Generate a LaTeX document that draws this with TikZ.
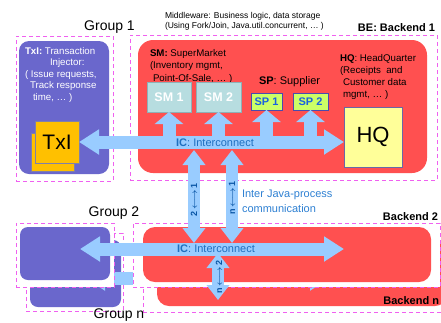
\documentclass[tikz,border=0pt]{standalone}
\usepackage{fontspec}
\setmainfont{Liberation Sans}
\usetikzlibrary{arrows.meta}

\definecolor{grppurple}{HTML}{6A67CC}
\definecolor{bered}{HTML}{FF5050}
\definecolor{icblue}{HTML}{99CCFF}
\definecolor{dashpink}{HTML}{F060F0}
\definecolor{smfill}{HTML}{B7DDE0}
\definecolor{smline}{HTML}{8EB0B6}
\definecolor{spfill}{HTML}{CCFF66}
\definecolor{spline}{HTML}{4A4AAE}
\definecolor{sptext}{HTML}{1A62E0}
\definecolor{hqfill}{HTML}{FFFF99}
\definecolor{hqline}{HTML}{6868A8}
\definecolor{txifill}{HTML}{FFC000}
\definecolor{txiline}{HTML}{8080A8}
\definecolor{iclabel}{HTML}{1F6FC0}
\definecolor{javablue}{HTML}{2E80D2}
\definecolor{linkblue}{HTML}{0A56A6}

\begin{document}
\begin{tikzpicture}[x=1pt,y=-1pt,
    every node/.style={inner sep=0pt,outer sep=0pt},
    grpbox/.style={draw=dashpink,fill=white,line width=0.9pt,dash pattern=on 4pt off 3pt},
    grpback/.style={fill=grppurple,rounded corners=10pt},
    beback/.style={fill=bered,rounded corners=15pt},
    smbox/.style={draw=smline,fill=smfill,line width=1pt,minimum height=30pt,text=white,
        font=\bfseries\fontsize{12.5}{12.5}\selectfont},
    spbox/.style={draw=spline,fill=spfill,line width=1pt,minimum height=17pt,text=sptext,
        font=\bfseries\fontsize{11}{11}\selectfont},
    txicard/.style={draw=txiline,fill=txifill,line width=0.8pt},
    icarrow/.style={draw=icblue,line width=13pt,
        {Triangle[width=24pt,length=20pt]}-{Triangle[width=24pt,length=20pt]}},
    uparrow/.style={draw=icblue,line width=13pt,-{Triangle[width=28pt,length=12pt]}},
    linkarrow/.style={draw=icblue,line width=12pt,
        {Triangle[width=22pt,length=15pt]}-{Triangle[width=22pt,length=15pt]}},
    linklabel/.style={rotate=90,text=linkblue,font=\bfseries\boldmath\fontsize{9}{9}\selectfont},
    iclabel/.style={text=iclabel,font=\fontsize{11}{11}\selectfont},
    grplabel/.style={font=\fontsize{14}{14}\selectfont},
    belabel/.style={anchor=east,font=\bfseries\fontsize{11}{11}\selectfont}]

    \useasboundingbox (0,0) rectangle (441,322);

    % group n / backend n, mostly hidden
    \node[grpbox,minimum width=97pt,minimum height=78pt] (grpnbox) at (74.5,272) {};
    \node[grpback,minimum width=91pt,minimum height=67pt,rounded corners=8pt] (txin) at (75.5,273.5) {};
    \node[grpbox,minimum width=307pt,minimum height=79pt] (benbox) at (296.5,272.5) {};
    \node[beback,minimum width=290pt,minimum height=66pt,rounded corners=12pt] (ben) at (302,273) {};
    \coordinate (icnl) at (85,278);
    \coordinate (icnr) at (330,278);
    \draw[icarrow] (icnl) -- (icnr);

    % group 2 / backend 2
    \node[grpbox,minimum width=98pt,minimum height=64pt] (grp2box) at (65,255) {};
    \node[grpback,minimum width=90pt,minimum height=53pt,rounded corners=8pt] (txi2) at (65,253.5) {};
    \node[grpbox,minimum width=307pt,minimum height=64pt] (be2box) at (286.5,255) {};
    \node[beback,minimum width=288pt,minimum height=55pt,rounded corners=12pt] (be2) at (287,254.5) {};
    \coordinate (ic2l) at (80,249);
    \coordinate (ic2r) at (344,249);
    \draw[icarrow] (ic2l) -- (ic2r);
    \node[iclabel] (ic2) at (216,249) {\textbf{IC}: Interconnect};
    \coordinate (lk3t) at (218,253);
    \coordinate (lk3b) at (218,300);
    \draw[linkarrow] (lk3t) -- (lk3b);
    \node[linklabel] (lk3lab) at (219,277) {n\,$\longleftrightarrow$\,2};

    % group 1
    \node[grpbox,minimum width=97pt,minimum height=145pt] (grp1box) at (64.5,108.5) {};
    \node[grpback,minimum width=90pt,minimum height=133pt] (txi1) at (64,107.5) {};
    \node[anchor=north west,align=left,text=white,font=\fontsize{9.7}{11.6}\selectfont] (txitext)
        at (25,47) {\textbf{TxI:} Transaction\\\hspace*{25pt}Injector:\\( Issue requests,\\\hspace*{5pt}Track response\\\hspace*{8pt}time, \ldots\ )};
    \node[txicard,minimum width=43pt,minimum height=38pt] (txiback) at (52.5,152) {};
    \node[txicard,minimum width=44pt,minimum height=42pt,font=\fontsize{21}{21}\selectfont] (txi) at (57,142) {TxI};

    % backend 1
    \node[grpbox,minimum width=307pt,minimum height=145pt] (be1box) at (283.5,107.5) {};
    \node[beback,minimum width=289pt,minimum height=133pt] (be1) at (282.5,106.5) {};
    \node[anchor=north west,align=left,font=\fontsize{9.7}{12.3}\selectfont] (smtext)
        at (150,49.5) {\textbf{SM:} SuperMarket\\(Inventory mgmt,\\\hspace*{3pt}Point-Of-Sale, \ldots\ )};
    \node[anchor=north west,font=\fontsize{11}{13}\selectfont] (sptext) at (259,77) {\textbf{SP}: Supplier};
    \node[anchor=north west,align=left,font=\fontsize{9.7}{12}\selectfont] (hqtext)
        at (340,54.4) {\textbf{HQ}: HeadQuarter\\(Receipts\ \ and\\\hspace*{3pt}Customer data\\\hspace*{3pt}mgmt, \ldots\ )};
    \node[smbox,minimum width=44pt] (sm1) at (169,97) {SM 1};
    \node[smbox,minimum width=45pt] (sm2) at (218.5,97) {SM 2};
    \node[spbox,minimum width=31pt] (sp1) at (266.5,101.5) {SP 1};
    \node[spbox,minimum width=35pt] (sp2) at (310.5,101.5) {SP 2};
    \node[draw=hqline,fill=hqfill,line width=1pt,minimum width=58pt,minimum height=60pt,
        font=\fontsize{22}{22}\selectfont] (hq) at (373,137) {HQ};

    \draw[icarrow] (txi.east) -- (hq.west |- txi.east);
    \foreach \b in {sm1,sm2,sp1,sp2}
        \draw[uparrow] (\b.south |- txi.east) -- (\b.south);
    \node[iclabel] (ic1) at (215,143) {\textbf{IC}: Interconnect};

    % between the java processes
    \coordinate (lk1t) at (194,150);
    \coordinate (lk1b) at (194,243);
    \coordinate (lk2t) at (232,150);
    \coordinate (lk2b) at (232,243);
    \draw[linkarrow] (lk1t) -- (lk1b);
    \draw[linkarrow] (lk2t) -- (lk2b);
    \node[linklabel] (lk1lab) at (194,200) {2\,$\longleftrightarrow$\,1};
    \node[linklabel] (lk2lab) at (232,198) {n\,$\longleftrightarrow$\,1};
    \node[anchor=north west,align=left,text=javablue,font=\fontsize{11}{14.5}\selectfont] (java)
        at (242,190) {Inter Java-process\\communication};

    % titles
    \node[anchor=north west,font=\fontsize{8.5}{10}\selectfont,align=left] (mw)
        at (165,11.9) {Middleware: Business logic, data storage\\(Using Fork/Join, Java.util.concurrent, \ldots\ )};
    \node[grplabel] (g1lab) at (109.5,26.7) {Group 1};
    \node[grplabel] (g2lab) at (114,213) {Group 2};
    \node[grplabel] (gnlab) at (119,315) {Group n};
    \node[belabel] (be1lab) at (435,27.7) {BE: Backend 1};
    \node[belabel] (be2lab) at (438,216.7) {Backend 2};
    \node[belabel] (benlab) at (439,301) {Backend n};
\end{tikzpicture}
\end{document}
